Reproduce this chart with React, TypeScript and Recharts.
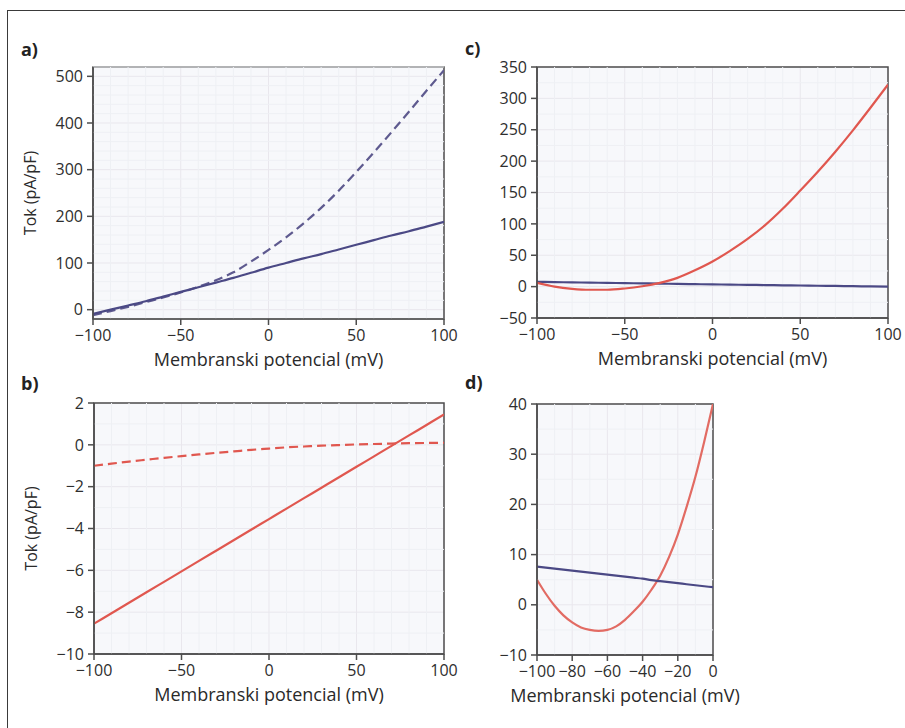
import {
  LineChart,
  Line,
  XAxis,
  YAxis,
  CartesianGrid,
  ReferenceLine,
  ReferenceArea,
} from "recharts";

// x values (mV)
const voltage = [-100, -90, -80, -70, -60, -50, -40, -30, -20, -10, 0, 10, 20, 30, 40, 50, 60, 70, 80, 90, 100];
const voltageD = [-100, -95, -90, -85, -80, -75, -70, -65, -60, -55, -50, -45, -40, -35, -30, -25, -20, -15, -10, -5, 0];

// panel a
const aSolid = [-9, 0, 9, 18, 28, 38, 48, 58, 68, 79, 90, 100, 110, 119, 129, 139, 149, 159, 168, 178, 188];
const aDashed = [-12, -3, 6, 16, 26, 37, 49, 63, 80, 103, 128, 155, 185, 218, 255, 295, 337, 380, 424, 469, 513];

// panel b
const bSolid = [-8.55, -8.05, -7.55, -7.05, -6.55, -6.05, -5.55, -5.05, -4.55, -4.05, -3.55, -3.05, -2.55, -2.05, -1.55, -1.05, -0.55, -0.05, 0.45, 0.95, 1.45];
const bDashed = [-1.0, -0.9, -0.8, -0.71, -0.62, -0.54, -0.46, -0.38, -0.31, -0.24, -0.18, -0.12, -0.08, -0.04, -0.01, 0.02, 0.04, 0.06, 0.08, 0.09, 0.1];

// panel c
const cRed = [6, 0, -3.5, -5, -5, -3, 0.6, 6, 14, 26, 40, 57, 76, 98, 124, 153, 183, 215, 249, 285, 322];
const cBlue = [7.6, 7.2, 6.8, 6.4, 6.0, 5.6, 5.2, 4.8, 4.3, 3.9, 3.5, 3.2, 2.8, 2.5, 2.1, 1.8, 1.4, 1.1, 0.7, 0.4, 0];

// panel d
const dRed = [5, 2.2, -0.2, -2.1, -3.5, -4.5, -5.0, -5.2, -5.0, -4.3, -3.0, -1.3, 0.6, 3.0, 5.8, 9.5, 14, 19.5, 25.5, 32.5, 40];
const dBlue = [7.6, 7.4, 7.2, 7.0, 6.8, 6.6, 6.4, 6.2, 6.0, 5.8, 5.6, 5.4, 5.2, 4.9, 4.7, 4.5, 4.3, 4.1, 3.9, 3.7, 3.5];

// ticks
const xTicks = [-100, -50, 0, 50, 100];
const xTicksD = [-100, -80, -60, -40, -20, 0];
const yTicksA = [0, 100, 200, 300, 400, 500];
const yTicksB = [-10, -8, -6, -4, -2, 0, 2];
const yTicksC = [-50, 0, 50, 100, 150, 200, 250, 300, 350];
const yTicksD = [-10, 0, 10, 20, 30, 40];

// minor grid
const minorX = [-90, -80, -70, -60, -40, -30, -20, -10, 10, 20, 30, 40, 60, 70, 80, 90];
const minorXD = [-90, -70, -50, -30, -10];
const minorYA = [-20, 20, 40, 60, 80, 120, 140, 160, 180, 220, 240, 260, 280, 320, 340, 360, 380, 420, 440, 460, 480, 520];
const minorYB = [-9, -7, -5, -3, -1, 1];
const minorYC = [-25, 25, 75, 125, 175, 225, 275, 325];
const minorYD = [-5, 5, 15, 25, 35];

const BLUE = "#4b4985";
const BLUE_DASH = "#5e5a8f";
const RED = "#e0574f";
const RED_D = "#e26b63";
const AXIS = "#4d4d4d";
const FONT = "'Open Sans', 'Noto Sans', sans-serif";

const fmt = (v: number) => String(v).replace("-", "\u2212");

type Series = { key: string; color: string; dash?: string };

function Panel(props: {
  left: number;
  top: number;
  plotW: number;
  plotH: number;
  yAxisW: number;
  mRight?: number;
  xs: number[];
  cols: Record<string, number[]>;
  series: Series[];
  xDomain: [number, number];
  xTicks: number[];
  yDomain: [number, number];
  yTicks: number[];
  minorX: number[];
  minorY: number[];
  yLabel?: boolean;
}) {
  const data = props.xs.map((x, i) => {
    const row: Record<string, number> = { x };
    Object.keys(props.cols).forEach((k) => (row[k] = props.cols[k][i]));
    return row;
  });
  const mRight = props.mRight ?? 14;
  const mTop = 10;
  const mBottom = 12;
  const xAxisH = 50;
  return (
    <div style={{ position: "absolute", left: props.left, top: props.top }}>
      <LineChart
        width={props.yAxisW + props.plotW + mRight}
        height={mTop + props.plotH + xAxisH + mBottom}
        data={data}
        margin={{ top: mTop, right: mRight, left: 0, bottom: mBottom }}
        style={{ fontFamily: FONT }}
      >
        <CartesianGrid stroke="#e9e7ed" fill="#f7f8fb" />
        {props.minorX.map((v) => (
          <ReferenceLine key={"mx" + v} x={v} stroke="#eef0f4" strokeWidth={1} />
        ))}
        {props.minorY.map((v) => (
          <ReferenceLine key={"my" + v} y={v} stroke="#eef0f4" strokeWidth={1} />
        ))}
        <XAxis
          dataKey="x"
          type="number"
          domain={props.xDomain}
          ticks={props.xTicks}
          allowDataOverflow
          height={xAxisH}
          tickFormatter={fmt}
          tick={{ fill: "#2e2e2e", fontSize: 16 }}
          tickSize={6}
          tickMargin={5}
          stroke={AXIS}
          strokeWidth={1.5}
          label={{
            value: "Membranski potencial (mV)",
            position: "insideBottom",
            offset: 3,
            fill: "#2a2a2a",
            fontSize: 18,
          }}
        />
        <YAxis
          type="number"
          domain={props.yDomain}
          ticks={props.yTicks}
          allowDataOverflow
          width={props.yAxisW}
          tickFormatter={fmt}
          tick={{ fill: "#2e2e2e", fontSize: 16 }}
          tickSize={6}
          tickMargin={4}
          stroke={AXIS}
          strokeWidth={1.5}
          label={
            props.yLabel
              ? {
                  value: "Tok (pA/pF)",
                  angle: -90,
                  position: "insideLeft",
                  offset: 12,
                  textAnchor: "middle",
                  fill: "#2a2a2a",
                  fontSize: 16,
                }
              : undefined
          }
        />
        {props.series.map((s) => (
          <Line
            key={s.key}
            dataKey={s.key}
            type="monotone"
            stroke={s.color}
            strokeWidth={2.2}
            strokeDasharray={s.dash}
            dot={false}
            isAnimationActive={false}
          />
        ))}
        <ReferenceArea
          x1={props.xDomain[0]}
          x2={props.xDomain[1]}
          y1={props.yDomain[0]}
          y2={props.yDomain[1]}
          fill="none"
          fillOpacity={0}
          stroke={AXIS}
          strokeWidth={1.5}
        />
      </LineChart>
    </div>
  );
}

const letterStyle = (left: number, top: number): React.CSSProperties => ({
  position: "absolute",
  left,
  top,
  fontFamily: FONT,
  fontWeight: 700,
  fontSize: 18,
  lineHeight: "20px",
  color: "#222",
});

export default function App() {
  return (
    <div style={{ position: "absolute", left: 0, top: 0, width: 905, height: 728, background: "#fff", overflow: "hidden" }}>
      <div
        style={{
          position: "absolute",
          left: 7,
          top: 10,
          width: 920,
          height: 740,
          borderTop: "1.5px solid #3a3a3a",
          borderLeft: "1.5px solid #3a3a3a",
        }}
      />
      <div style={letterStyle(21, 39)}>a)</div>
      <div style={letterStyle(465, 38)}>c)</div>
      <div style={letterStyle(21, 373)}>b)</div>
      <div style={letterStyle(465, 372)}>d)</div>

      <Panel
        left={18}
        top={57}
        plotW={351}
        plotH={252}
        yAxisW={75}
        xs={voltage}
        cols={{ solid: aSolid, dashed: aDashed }}
        series={[
          { key: "dashed", color: BLUE_DASH, dash: "9 5" },
          { key: "solid", color: BLUE },
        ]}
        xDomain={[-100, 100]}
        xTicks={xTicks}
        yDomain={[-20, 520]}
        yTicks={yTicksA}
        minorX={minorX}
        minorY={minorYA}
        yLabel
      />
      <Panel
        left={477}
        top={57}
        plotW={351}
        plotH={251}
        yAxisW={60}
        xs={voltage}
        cols={{ red: cRed, blue: cBlue }}
        series={[
          { key: "blue", color: BLUE },
          { key: "red", color: RED },
        ]}
        xDomain={[-100, 100]}
        xTicks={xTicks}
        yDomain={[-50, 350]}
        yTicks={yTicksC}
        minorX={minorX}
        minorY={minorYC}
      />
      <Panel
        left={19}
        top={393}
        plotW={350}
        plotH={251}
        yAxisW={75}
        xs={voltage}
        cols={{ solid: bSolid, dashed: bDashed }}
        series={[
          { key: "dashed", color: RED, dash: "9 5" },
          { key: "solid", color: RED },
        ]}
        xDomain={[-100, 100]}
        xTicks={xTicks}
        yDomain={[-10, 2]}
        yTicks={yTicksB}
        minorX={minorX}
        minorY={minorYB}
        yLabel
      />
      <Panel
        left={477}
        top={394}
        plotW={176}
        plotH={251}
        yAxisW={60}
        mRight={80}
        xs={voltageD}
        cols={{ red: dRed, blue: dBlue }}
        series={[
          { key: "red", color: RED_D },
          { key: "blue", color: BLUE },
        ]}
        xDomain={[-100, 0]}
        xTicks={xTicksD}
        yDomain={[-10, 40]}
        yTicks={yTicksD}
        minorX={minorXD}
        minorY={minorYD}
      />
    </div>
  );
}
